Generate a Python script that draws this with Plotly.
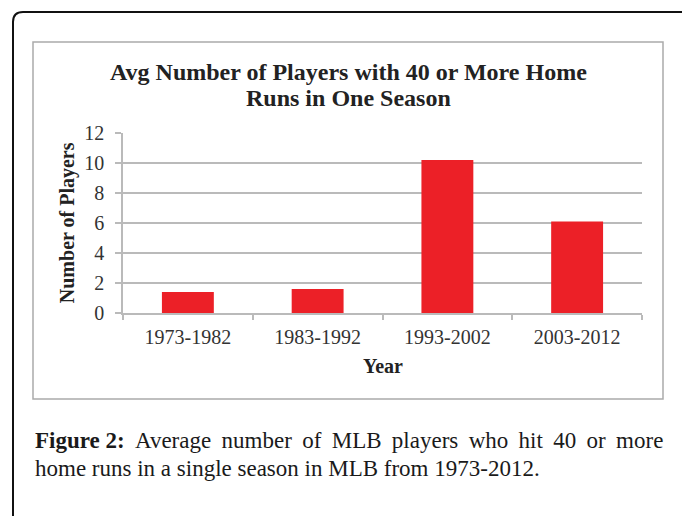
import plotly.graph_objects as go

# Data
periods = ["1973-1982", "1983-1992", "1993-2002", "2003-2012"]
avg_players = [1.4, 1.6, 10.2, 6.1]
y_ticks = [0, 2, 4, 6, 8, 10, 12]

title_lines = ["Avg Number of Players with 40 or More Home", "Runs in One Season"]
x_title = "Year"
y_title = "Number of Players"
caption_label = "Figure 2:"
caption_line1_words = ["Average", "number", "of", "MLB", "players", "who", "hit", "40", "or", "more"]
caption_line2 = "home runs in a single season in MLB from 1973-2012."

# Page geometry (pixels)
W, H = 682, 516
PL, PR, PT, PB = 123, 642, 133, 313  # plot area edges


def px(x):
    return (x - PL) / (PR - PL)


def py(y):
    return (PB - y) / (PB - PT)


SERIF = "Liberation Serif, Times New Roman, serif"
GRID = "#bababa"

fig = go.Figure(
    go.Bar(
        x=periods,
        y=avg_players,
        marker=dict(color="#ec2027", line=dict(width=0)),
        width=0.4,
    )
)

fig.update_layout(
    width=W,
    height=H,
    margin=dict(l=PL, r=W - PR, t=PT, b=H - PB, pad=0),
    paper_bgcolor="white",
    plot_bgcolor="white",
    showlegend=False,
    font=dict(family=SERIF, color="#333333"),
)

fig.update_xaxes(
    showline=True,
    linecolor=GRID,
    linewidth=1.5,
    ticks="outside",
    tickson="boundaries",
    ticklen=5,
    tickcolor=GRID,
    tickwidth=1.5,
    showgrid=False,
    tickfont=dict(size=20, color="#333333"),
    ticklabelstandoff=5,
)
fig.update_yaxes(
    range=[0, 12],
    tickvals=y_ticks,
    showline=True,
    linecolor=GRID,
    linewidth=1.5,
    ticks="outside",
    ticklen=6,
    tickcolor=GRID,
    tickwidth=1.5,
    showgrid=True,
    gridcolor=GRID,
    gridwidth=1.5,
    zeroline=False,
    tickfont=dict(size=20, color="#333333"),
    ticklabelstandoff=7,
)

annotations = []
# Chart title (two lines, centred on the chart frame)
for text, y in zip(title_lines, [72, 98]):
    annotations.append(dict(
        text=f"<b>{text}</b>", x=px(348), y=py(y), xref="paper", yref="paper",
        xanchor="center", yanchor="middle", showarrow=False,
        font=dict(family=SERIF, size=24, color="#222222"),
    ))
# Axis titles
annotations.append(dict(
    text=f"<b>{x_title}</b>", x=px(382.5), y=py(366), xref="paper", yref="paper",
    xanchor="center", yanchor="middle", showarrow=False,
    font=dict(family=SERIF, size=20, color="#222222"),
))
annotations.append(dict(
    text=f"<b>{y_title}</b>", x=px(67.5), y=py(222.7), xref="paper", yref="paper",
    xanchor="center", yanchor="middle", showarrow=False, textangle=-90,
    font=dict(family=SERIF, size=20, color="#222222"),
))
# Caption below the chart frame
gap = " \u2009"
caption1 = f"<b>{caption_label}</b>" + gap + gap.join(caption_line1_words)
for text, y in zip([caption1, caption_line2], [440, 468]):
    annotations.append(dict(
        text=text, x=px(33), y=py(y), xref="paper", yref="paper",
        xanchor="left", yanchor="middle", showarrow=False,
        font=dict(family=SERIF, size=23, color="#1a1a1a"),
    ))
fig.update_layout(annotations=annotations)

# Chart frame and the rounded outer border of the figure panel
r = 10
fig.update_layout(shapes=[
    dict(type="rect", xref="paper", yref="paper",
         x0=px(33), x1=px(663), y0=py(399), y1=py(42),
         line=dict(color="#aaaaaa", width=1.5), layer="below"),
    dict(type="path", xref="paper", yref="paper",
         path=(f"M {px(13)},{py(530)} L {px(13)},{py(12 + r)} "
               f"Q {px(13)},{py(12)} {px(13 + r)},{py(12)} L {px(700)},{py(12)}"),
         line=dict(color="#111111", width=2)),
])

fig.write_html("out.html")
